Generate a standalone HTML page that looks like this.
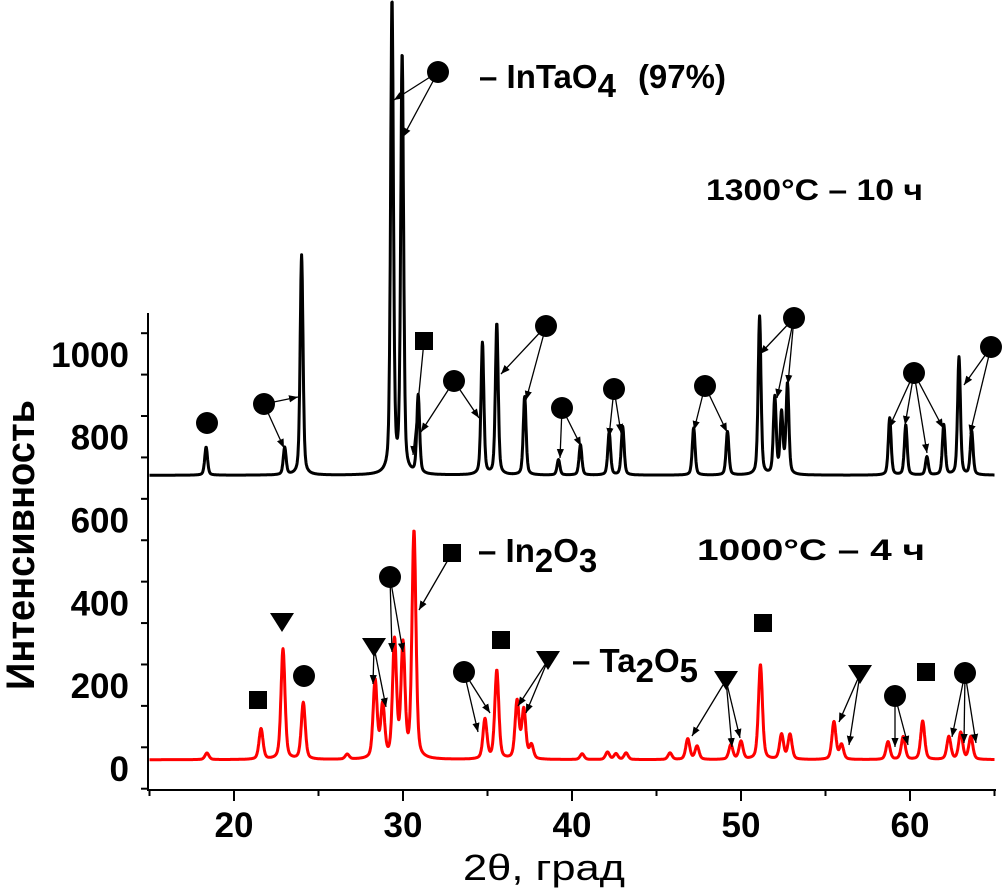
<!DOCTYPE html>
<html><head><meta charset="utf-8"><style>
html,body{margin:0;padding:0;background:#fff;}
svg{display:block;font-family:"Liberation Sans",sans-serif;}
</style></head><body>
<svg id="chart" width="1004" height="893" viewBox="0 0 1004 893" xmlns="http://www.w3.org/2000/svg">
<defs><marker id="ah" viewBox="0 0 10 10" refX="10" refY="5" markerWidth="9" markerHeight="9" orient="auto-start-reverse" markerUnits="userSpaceOnUse"><path d="M0,1 L10,5 L0,9 z" fill="#000"/></marker></defs>
<g id="axes"></g>
<g id="series"></g>
<g id="annot"></g>
<text transform="translate(34,545) rotate(-90)" text-anchor="middle" font-size="40" font-weight="bold" textLength="290" lengthAdjust="spacingAndGlyphs">Интенсивность</text>
<text x="463" y="880" font-size="36" textLength="162" lengthAdjust="spacingAndGlyphs">2θ, град</text>
<text x="479" y="88" font-size="33" font-weight="bold">– InTaO<tspan dy="9">4</tspan><tspan dy="-9" dx="22">(97%)</tspan></text>
<text x="706" y="200" font-size="30" font-weight="bold" textLength="217" lengthAdjust="spacingAndGlyphs">1300°C – 10 ч</text>
<text x="697" y="560" font-size="30" font-weight="bold" textLength="228" lengthAdjust="spacingAndGlyphs">1000°C  – 4 ч</text>
<text x="478" y="562" font-size="33" font-weight="bold">– In<tspan dy="10">2</tspan><tspan dy="-10">O</tspan><tspan dy="10">3</tspan></text>
<text x="572" y="672" font-size="33" font-weight="bold">– Ta<tspan dy="10">2</tspan><tspan dy="-10">O</tspan><tspan dy="10">5</tspan></text>
</svg>
<script>
// ---- data ----
const xTicks = [20, 30, 40, 50, 60];
const yTicks = [0, 200, 400, 600, 800, 1000];
const blackBaseline = 707;
const blackPeakPos = [18.35,23.0,24.0,29.35,29.95,30.9,34.7,35.55,37.2,39.2,40.5,42.2,43.0,47.2,49.2,51.1,52.0,52.4,52.75,58.8,59.75,61.0,62.0,62.9,63.65];
const blackPeakVal = [775,773,1239,1847,1715,896,1026,1072,896,744,780,809,824,821,812,1090,893,853,925,845,828,751,828,992,812];
const redBaseline = 20;
const redPeakPos = [18.4,21.6,22.9,24.1,26.7,28.35,28.8,29.5,30.0,30.65,34.85,35.55,36.75,37.15,37.6,40.6,42.1,42.6,43.2,45.8,46.85,47.4,49.4,50.0,51.15,52.4,52.9,55.5,55.95,58.7,59.6,60.75,62.3,63.0,63.6];
const redPeakVal = [36,94,287,157,32,208,147,302,290,567,116,234,159,138,53,34,38,34,36,36,70,52,55,63,249,80,80,111,55,63,75,113,75,85,75];

// ---- scales ----
const X = v => 149.5 + (v - 15) * 16.9;
const Y = v => 768 - v * 0.4141;
const NS = "http://www.w3.org/2000/svg";
function mk(tag, attrs, parent){const e=document.createElementNS(NS,tag);for(const k in attrs)e.setAttribute(k,attrs[k]);parent.appendChild(e);return e;}
const axes=document.getElementById('axes'), series=document.getElementById('series'), annot=document.getElementById('annot');

// axes
let e = mk('line',{x1:148,y1:313,x2:148,y2:791,stroke:'#000','stroke-width':2},axes);


e = mk('line',{x1:147,y1:790,x2:996,y2:790,stroke:'#000','stroke-width':2},axes);


for(let v=-50; v<=1100; v+=100){
  const y=Y(v); if(y<313||y>790) continue;
  const major = v%200===0;
  e = mk('line',{x1:major?137:141,y1:y,x2:148,y2:y,stroke:'#000','stroke-width':2},axes);
  
  
}
yTicks.forEach(v=>{
  e = mk('text',{x:129,y:Y(v)+13,'text-anchor':'end','font-size':35,'font-weight':'bold'},axes);
  e.textContent=v;
  
  
});
for(let v=15; v<=65; v+=5){
  const major = v%10===0;
  e = mk('line',{x1:X(v),y1:790,x2:X(v),y2:major?801:796,stroke:'#000','stroke-width':2},axes);
  
  
}
xTicks.forEach(v=>{
  e = mk('text',{x:X(v),y:837,'text-anchor':'middle','font-size':35,'font-weight':'bold'},axes);
  e.textContent=v;
  
  
});

// curves
function profile(pos, vals, base, g, t){
  let s=base;
  for(let i=0;i<pos.length;i++){
    const d=(t-pos[i])/g, a=vals[i]-base;
    s += a*(0.6*Math.exp(-0.693*d*d) + 0.4/(1+d*d));
  }
  return s;
}
function curve(pos, vals, base, g, color, name){
  let d='';
  for(let t=15; t<=65.001; t+=0.02){
    d += (d?'L':'M') + X(t).toFixed(1) + ',' + Y(profile(pos,vals,base,g,t)).toFixed(1);
  }
  const p = mk('path',{d:d,fill:'none',stroke:color,'stroke-width':3,'stroke-linejoin':'round'},series);
  
  
}
curve(redPeakPos, redPeakVal, redBaseline, 0.14, '#ff0000', 'series-1000c');
curve(blackPeakPos, blackPeakVal, blackBaseline, 0.1, '#000000', 'series-1300c');

// annotations (marker position px, arrow targets px)
const annots = [
 ['c',207,423,[]],
 ['c',264,404,[[284,448],[298,397]]],
 ['c',438,72,[[394,100],[403,137]]],
 ['s',424,341,[[413,455]]],
 ['c',454,381,[[421,432],[479,418]]],
 ['c',546,326,[[501,374],[526,400]]],
 ['c',562,408,[[560,458],[581,446]]],
 ['c',614,389,[[609,437],[621,433]]],
 ['c',705,386,[[694,430],[727,432]]],
 ['c',794,318,[[760,354],[777,398],[788,384]]],
 ['c',914,373,[[889,428],[905,425],[927,453],[943,428]]],
 ['c',991,347,[[964,385],[970,434]]],
 ['s',258,700,[]],
 ['t',282,622,[]],
 ['c',304,676,[]],
 ['t',374,647,[[373,684],[386,707]]],
 ['c',390,577,[[392,652],[403,652]]],
 ['s',452,553,[[419,610]]],
 ['t',548,660,[[518,706],[526,713]]],
 ['c',464,672,[[478,732],[490,713]]],
 ['s',501,640,[]],
 ['t',726,680,[[692,736],[732,747],[740,738]]],
 ['s',763,623,[]],
 ['t',860,674,[[839,722],[849,745]]],
 ['c',895,696,[[895,747],[908,745]]],
 ['s',926,672,[]],
 ['c',965,673,[[952,737],[964,743],[976,743]]]
];
annots.forEach(a=>{
  const [k,x,y,tg]=a;
  tg.forEach(p=>{
    e = mk('line',{x1:x,y1:y,x2:p[0],y2:p[1],stroke:'#000','stroke-width':1.3,'marker-end':'url(#ah)'},annot);
    
    
  });
  if(k==='c'){ e = mk('circle',{cx:x,cy:y,r:11,fill:'#000'},annot);  }
  else if(k==='s'){ e = mk('rect',{x:x-9,y:y-9,width:18,height:18,fill:'#000'},annot);  }
  else { e = mk('path',{d:`M${x-12},${y-9}L${x+12},${y-9}L${x},${y+10}z`,fill:'#000'},annot);  }
  
});
</script>
</body></html>
